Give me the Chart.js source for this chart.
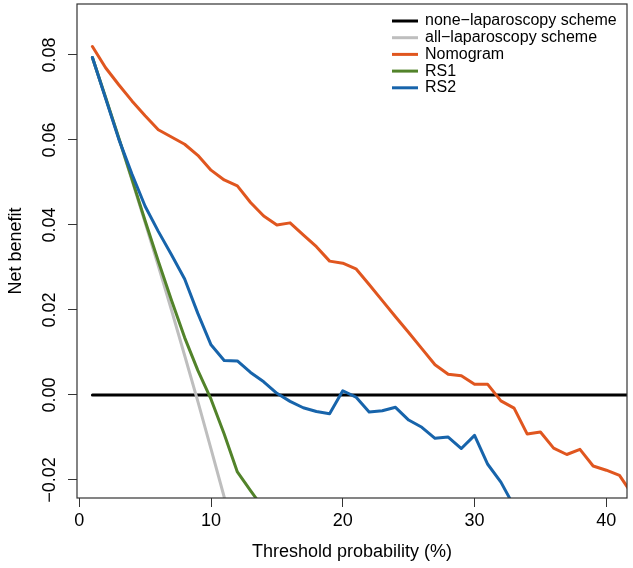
<!DOCTYPE html>
<html>
<head>
<meta charset="utf-8">
<script src="https://cdn.jsdelivr.net/npm/chart.js@4.4.1/dist/chart.umd.min.js"></script>
<style>
  html, body { margin: 0; padding: 0; background: #fff; }
  #wrap { width: 633px; height: 568px; }
</style>
</head>
<body>
<div id="wrap"><canvas id="dca" width="633" height="568"></canvas></div>
<script>
// threshold probability (%) of each point
var thresholds = [1, 2, 3, 4, 5, 6, 7, 8, 9, 10, 11, 12, 13, 14, 15, 16, 17, 18, 19, 20, 21,
                  22, 23, 24, 25, 26, 27, 28, 29, 30, 31, 32, 33, 34, 35, 36, 37, 38, 39, 40, 41, 42];

// net benefit
var noneScheme = [0, 0, 0, 0, 0, 0, 0, 0, 0, 0, 0, 0, 0, 0, 0, 0, 0, 0, 0, 0, 0,
                  0, 0, 0, 0, 0, 0, 0, 0, 0, 0, 0, 0, 0, 0, 0, 0, 0, 0, 0, 0, 0];
var allScheme = [0.0794, 0.0700, 0.0604, 0.0506, 0.0406, 0.0304, 0.0200, 0.0093, -0.0015, -0.0127, -0.0240, -0.0371];
var nomogram = [0.0820, 0.0770, 0.0730, 0.0692, 0.0657, 0.0624, 0.0607, 0.0590, 0.0564, 0.0529, 0.0506, 0.0492,
                0.0453, 0.0421, 0.0400, 0.0405, 0.0377, 0.0349, 0.0315, 0.0310, 0.0297, 0.0260, 0.0222, 0.0184,
                0.0147, 0.0109, 0.0071, 0.0049, 0.0045, 0.0025, 0.0025, -0.0014, -0.0031, -0.0092, -0.0087,
                -0.0125, -0.0140, -0.0128, -0.0167, -0.0177, -0.0189, -0.0235];
var rs1 = [0.0794, 0.0700, 0.0605, 0.0508, 0.0410, 0.0315, 0.0223, 0.0135, 0.0058, -0.0010, -0.0092, -0.0181,
           -0.0225, -0.0268];
var rs2 = [0.0794, 0.0698, 0.0602, 0.0520, 0.0444, 0.0385, 0.0330, 0.0273, 0.0192, 0.0118, 0.0081, 0.0080,
           0.0053, 0.0031, 0.0004, -0.0015, -0.0030, -0.0039, -0.0044, 0.0010, -0.0005, -0.0040, -0.0037,
           -0.0029, -0.0059, -0.0076, -0.0102, -0.0099, -0.0126, -0.0095, -0.0163, -0.0205, -0.0262];

var xTicks = [0, 10, 20, 30, 40];
var yTicks = [-0.02, 0, 0.02, 0.04, 0.06, 0.08];

function pts(vals) {
  return vals.map(function (v, i) { return { x: thresholds[i], y: v }; });
}

function line(label, vals, color, order) {
  return {
    label: label,
    data: pts(vals),
    borderColor: color,
    backgroundColor: color,
    borderWidth: 3,
    pointRadius: 0,
    tension: 0,
    borderJoinStyle: 'round',
    borderCapStyle: 'round',
    clip: 0,
    order: order
  };
}

Chart.defaults.font.family = '"Liberation Sans", Arial, Helvetica, sans-serif';
Chart.defaults.color = '#000';

// box round the plot region
var boxPlugin = {
  id: 'plotBox',
  afterDatasetsDraw: function (chart) {
    var a = chart.chartArea, ctx = chart.ctx;
    ctx.save();
    ctx.strokeStyle = '#333';
    ctx.lineWidth = 1.2;
    ctx.strokeRect(a.left, a.top, a.right - a.left, a.bottom - a.top);
    ctx.restore();
  }
};

// legend in the top right corner, as in the R plot
var cornerLegend = {
  id: 'cornerLegend',
  afterDraw: function (chart) {
    var ctx = chart.ctx, a = chart.chartArea;
    ctx.save();
    ctx.font = '16px "Liberation Sans", Arial, sans-serif';
    ctx.textBaseline = 'middle';
    ctx.textAlign = 'left';
    chart.data.datasets.forEach(function (ds, i) {
      var y = a.top + 17 + i * 16.7;
      ctx.strokeStyle = ds.borderColor;
      ctx.lineWidth = 3;
      ctx.beginPath();
      ctx.moveTo(a.right - 235, y);
      ctx.lineTo(a.right - 209, y);
      ctx.stroke();
      ctx.fillStyle = '#000';
      ctx.fillText(ds.label, a.right - 202, y);
    });
    ctx.restore();
  }
};

var ctx = document.getElementById('dca').getContext('2d');
var chart = new Chart(ctx, {
  type: 'line',
  data: {
    datasets: [
      line('none\u2212laparoscopy scheme', noneScheme, '#000000', 5),
      line('all\u2212laparoscopy scheme', allScheme, '#BEBEBE', 4),
      line('Nomogram', nomogram, '#E0561F', 3),
      line('RS1', rs1, '#52832A', 2),
      line('RS2', rs2, '#1764AB', 1)
    ]
  },
  options: {
    responsive: false,
    animation: false,
    layout: { padding: { left: 0, top: 4, right: 6, bottom: 0 } },
    plugins: {
      legend: { display: false },
      tooltip: { enabled: false }
    },
    scales: {
      x: {
        type: 'linear',
        min: -0.17,
        max: 41.57,
        afterBuildTicks: function (s) { s.ticks = xTicks.map(function (v) { return { value: v }; }); },
        afterFit: function (s) { s.height = 70; s.paddingLeft = 0; s.paddingRight = 0; },
        grid: { drawOnChartArea: false, drawTicks: true, tickLength: 9, color: '#333', tickWidth: 1 },
        border: { display: false },
        ticks: {
          font: { size: 18 },
          padding: 3,
          maxRotation: 0,
          callback: function (v) { return String(v); }
        },
        title: {
          display: true,
          text: 'Threshold probability (%)',
          font: { size: 18 },
          padding: { top: 0, bottom: 5 }
        }
      },
      y: {
        type: 'linear',
        min: -0.02424,
        max: 0.092,
        afterBuildTicks: function (s) { s.ticks = yTicks.map(function (v) { return { value: v }; }); },
        afterFit: function (s) { s.width = 77; s.paddingTop = 0; s.paddingBottom = 0; },
        grid: { drawOnChartArea: false, drawTicks: true, tickLength: 9, color: '#333', tickWidth: 1 },
        border: { display: false },
        ticks: {
          font: { size: 18 },
          minRotation: 90,
          maxRotation: 90,
          crossAlign: 'center',
          padding: -5,
          callback: function (v) { return (v < 0 ? '\u2212' : '') + Math.abs(v).toFixed(2); }
        },
        title: {
          display: true,
          text: 'Net benefit',
          font: { size: 18 },
          padding: { top: 5, bottom: 0 }
        }
      }
    }
  },
  plugins: [boxPlugin, cornerLegend]
});
</script>
</body>
</html>
